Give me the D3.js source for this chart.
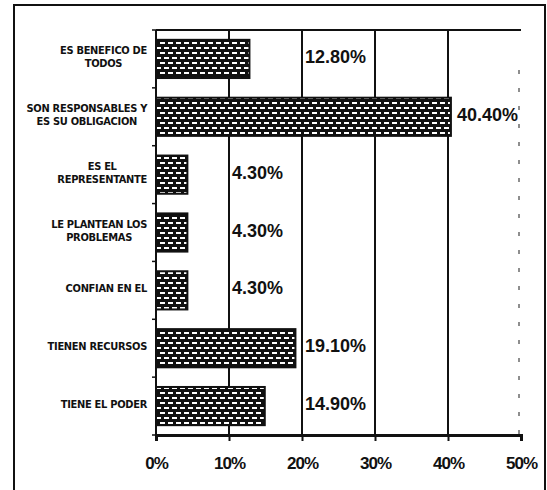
<!DOCTYPE html>
<html>
<head>
<meta charset="utf-8">
<script src="https://cdn.jsdelivr.net/npm/d3@7"></script>
<style>
body { margin:0; background:#fff; }
.cat { font-family:"Liberation Sans Narrow","DejaVu Sans Condensed",sans-serif; font-weight:bold; font-size:11px; letter-spacing:-0.3px; fill:#111; }
.val { font-family:"Liberation Sans",Arial,sans-serif; font-weight:bold; font-size:18px; fill:#111; }
.tick-lab { font-family:"Liberation Sans",Arial,sans-serif; font-weight:bold; font-size:17px; fill:#111; letter-spacing:-1px; }
</style>
</head>
<body>
<svg id="chart" width="547" height="490"></svg>
<script>
// categorias, de arriba a abajo, ya partidas en lineas como en la grafica original
var categorias = [
  ["ES BENEFICO DE", "TODOS"],
  ["SON RESPONSABLES Y", "ES SU OBLIGACION"],
  ["ES EL", "REPRESENTANTE"],
  ["LE PLANTEAN LOS", "PROBLEMAS"],
  ["CONFIAN EN EL"],
  ["TIENEN RECURSOS"],
  ["TIENE EL PODER"]
];
var porcentajes = [12.8, 40.4, 4.3, 4.3, 4.3, 19.1, 14.9];
var marcas = [0, 10, 20, 30, 40, 50];

var svg = d3.select("#chart");

// marco exterior
svg.append("rect")
  .attr("x", 14).attr("y", 5)
  .attr("width", 531).attr("height", 500)
  .attr("fill", "none").attr("stroke", "#111").attr("stroke-width", 2);

var pLeft = 156, pRight = 521, pTop = 30, pBottom = 435;

var x = d3.scaleLinear().domain([0, 50]).range([pLeft, pRight]);
var y = d3.scaleBand().domain(d3.range(categorias.length)).range([pTop, pBottom]).paddingInner(0.34).paddingOuter(0.17);

// trama de ladrillos
var defs = svg.append("defs");
var pat = defs.append("pattern")
  .attr("id", "ladrillo")
  .attr("patternUnits", "userSpaceOnUse")
  .attr("width", 8).attr("height", 10);
pat.append("rect").attr("width", 8).attr("height", 10).attr("fill", "#111");
pat.append("rect").attr("x", 0).attr("y", 2).attr("width", 5).attr("height", 2).attr("fill", "#fff");
pat.append("rect").attr("x", 4).attr("y", 7).attr("width", 5).attr("height", 2).attr("fill", "#fff");
pat.append("rect").attr("x", -4).attr("y", 7).attr("width", 5).attr("height", 2).attr("fill", "#fff");

// lineas de division
svg.append("g").selectAll("line")
  .data(marcas.filter(function(d){ return d > 0 && d < 50; }))
  .enter().append("line")
  .attr("x1", function(d){ return x(d); }).attr("x2", function(d){ return x(d); })
  .attr("y1", pTop).attr("y2", pBottom)
  .attr("stroke", "#111").attr("stroke-width", 2);

// borde derecho casi borrado
svg.append("line")
  .attr("x1", x(50) - 2).attr("x2", x(50) - 2)
  .attr("y1", pTop + 40).attr("y2", pBottom)
  .attr("stroke", "#444").attr("stroke-width", 1.2)
  .attr("stroke-dasharray", "4,14");

// borde superior del area
svg.append("line")
  .attr("x1", pLeft).attr("x2", pRight)
  .attr("y1", pTop).attr("y2", pTop)
  .attr("stroke", "#111").attr("stroke-width", 2);

// barras
svg.append("g").selectAll("rect")
  .data(porcentajes)
  .enter().append("rect")
  .attr("x", x(0))
  .attr("y", function(d, i){ return y(i); })
  .attr("width", function(d){ return x(d) - x(0); })
  .attr("height", y.bandwidth())
  .attr("fill", "url(#ladrillo)")
  .attr("stroke", "#111").attr("stroke-width", 2);

// etiquetas de valor: justo despues de la siguiente linea de division
svg.append("g").selectAll("text")
  .data(porcentajes)
  .enter().append("text")
  .attr("class", "val")
  .attr("x", function(d){
    var sig = Math.ceil(d / 10) * 10;
    return sig < 50 ? x(sig) + 3 : x(d) + 6;
  })
  .attr("y", function(d, i){ return y(i) + y.bandwidth() / 2 + 4; })
  .text(function(d){ return d3.format(".2f")(d) + "%"; });

// eje x
var ejeX = d3.axisBottom(x).tickValues(marcas).tickSize(6).tickFormat(function(d){ return d + "%"; });
var gx = svg.append("g").attr("transform", "translate(0," + pBottom + ")").call(ejeX);
gx.attr("font-family", null).attr("font-size", null);
gx.select(".domain").attr("stroke", "#111").attr("stroke-width", 3);
gx.selectAll(".tick line").attr("stroke", "#111").attr("stroke-width", 2);
gx.selectAll(".tick text").attr("class", "tick-lab").attr("dy", 0).attr("y", 34);

// eje y con marcas entre categorias
svg.append("line")
  .attr("x1", pLeft).attr("x2", pLeft).attr("y1", pTop).attr("y2", pBottom)
  .attr("stroke", "#111").attr("stroke-width", 2);
svg.append("g").selectAll("line")
  .data(d3.range(categorias.length + 1))
  .enter().append("line")
  .attr("x1", pLeft - 4).attr("x2", pLeft)
  .attr("y1", function(i){ return pTop + i * (pBottom - pTop) / categorias.length; })
  .attr("y2", function(i){ return pTop + i * (pBottom - pTop) / categorias.length; })
  .attr("stroke", "#111").attr("stroke-width", 1.5);

// nombres de categoria, centrados sobre la linea mas ancha
var labelRight = 147;
categorias.forEach(function(lineas, i){
  var g = svg.append("g");
  var cy = y(i) + y.bandwidth() / 2;
  var textos = lineas.map(function(l, k){
    return g.append("text").attr("class", "cat")
      .attr("y", cy + (k - (lineas.length - 1) / 2) * 13 - 2 + 4)
      .attr("text-anchor", "middle")
      .text(l);
  });
  var ancho = d3.max(textos, function(t){ return t.node().getComputedTextLength(); });
  textos.forEach(function(t){ t.attr("x", labelRight - ancho / 2); });
});
</script>
</body>
</html>
